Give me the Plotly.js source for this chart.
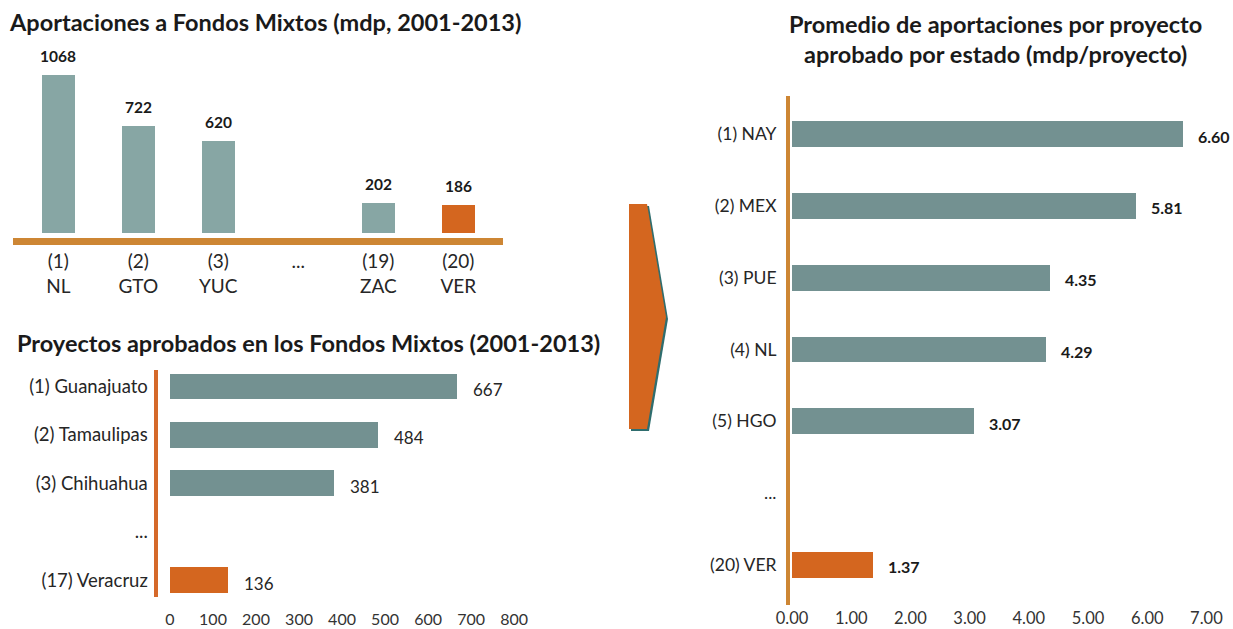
<!DOCTYPE html>
<html>
<head>
<meta charset="utf-8">
<script src="https://cdn.plot.ly/plotly-3.0.1.min.js"></script>
<style>
  html, body { margin: 0; padding: 0; background: #ffffff; }
  #chart { width: 1233px; height: 629px; }
</style>
</head>
<body>
<div id="chart"></div>
<script>
// ---------- Data ----------
// Chart 1: Aportaciones a Fondos Mixtos (mdp, 2001-2013)
const aportCategories = ['(1)<br>NL', '(2)<br>GTO', '(3)<br>YUC', '...', '(19)<br>ZAC', '(20)<br>VER'];
const aportValues = [1068, 722, 620, null, 202, 186];
const aportLabels = ['1068', '722', '620', '', '202', '186'];

// Chart 2: Proyectos aprobados en los Fondos Mixtos (2001-2013)
const proyCategories = ['(1) Guanajuato', '(2) Tamaulipas', '(3) Chihuahua', '...', '(17) Veracruz'];
const proyValues = [667, 484, 381, null, 136];
const proyTicks = [0, 100, 200, 300, 400, 500, 600, 700, 800];

// Chart 3: Promedio de aportaciones por proyecto aprobado por estado (mdp/proyecto)
const promCategories = ['(1) NAY', '(2) MEX', '(3) PUE', '(4) NL', '(5) HGO', '...', '(20) VER'];
const promValues = [6.60, 5.81, 4.35, 4.29, 3.07, null, 1.37];
const promTicks = [0, 1, 2, 3, 4, 5, 6, 7];

// Highlighted state (Veracruz) is the last entry in each chart
const W = 1233, H = 629;
const FONT = 'Lato, "Open Sans", sans-serif';
const TEAL_LIGHT = '#87a6a4';
const TEAL = '#739191';
const ORANGE = '#d4661f';
const LINE_TAN = '#cd8634';
const LINE_RED = '#d5692a';
const TITLE_SIZE = 23.5;

const px = x => x / W;
const py = y => 1 - y / H;

const trace1 = {
  type: 'bar', x: aportCategories, y: aportValues,
  xaxis: 'x', yaxis: 'y', width: 0.416,
  marker: { color: aportValues.map((v, i) => i === aportValues.length - 1 ? ORANGE : TEAL_LIGHT) },
  hoverinfo: 'x+y'
};
const trace2 = {
  type: 'bar', orientation: 'h', y: proyCategories, x: proyValues,
  xaxis: 'x2', yaxis: 'y2', width: 0.537,
  marker: { color: proyValues.map((v, i) => i === proyValues.length - 1 ? ORANGE : TEAL) },
  hoverinfo: 'x+y'
};
const trace3 = {
  type: 'bar', orientation: 'h', y: promCategories, x: promValues,
  xaxis: 'x3', yaxis: 'y3', width: 0.36,
  marker: { color: promValues.map((v, i) => i === promValues.length - 1 ? ORANGE : TEAL) },
  hoverinfo: 'x+y'
};

const annotations = [];
// value labels chart 1
aportValues.forEach((v, i) => {
  if (v === null) return;
  annotations.push({
    xref: 'x', yref: 'y', x: i, y: v, text: aportLabels[i],
    showarrow: false, yanchor: 'bottom', xanchor: 'center', yshift: 8,
    font: { family: FONT, size: 15.5, color: '#1a1a1a', weight: 700 }
  });
});
// value labels chart 2
proyValues.forEach((v, i) => {
  if (v === null) return;
  annotations.push({
    xref: 'x2', yref: 'y2', x: v, y: i, text: String(v),
    showarrow: false, xanchor: 'left', yanchor: 'middle', xshift: 14, yshift: -3,
    font: { family: FONT, size: 17, color: '#262626' }
  });
});
// value labels chart 3
promValues.forEach((v, i) => {
  if (v === null) return;
  annotations.push({
    xref: 'x3', yref: 'y3', x: v, y: i, text: v.toFixed(2),
    showarrow: false, xanchor: 'left', yanchor: 'middle', xshift: 13, yshift: -2,
    font: { family: FONT, size: 16, color: '#1a1a1a', weight: 700 }
  });
});
// titles for chart 2 and 3
annotations.push({
  xref: 'paper', yref: 'paper', x: px(15), y: py(343), xanchor: 'left', yanchor: 'middle',
  text: 'Proyectos aprobados en los Fondos Mixtos (2001-2013)', showarrow: false,
  font: { family: FONT, size: TITLE_SIZE, color: '#1a1a1a', weight: 700 }
});
annotations.push({
  xref: 'paper', yref: 'paper', x: px(995), y: py(24), xanchor: 'center', yanchor: 'middle',
  text: 'Promedio de aportaciones por proyecto', showarrow: false,
  font: { family: FONT, size: TITLE_SIZE, color: '#1a1a1a', weight: 700 }
});
annotations.push({
  xref: 'paper', yref: 'paper', x: px(995), y: py(54), xanchor: 'center', yanchor: 'middle',
  text: 'aprobado por estado (mdp/proyecto)', showarrow: false,
  font: { family: FONT, size: TITLE_SIZE, color: '#1a1a1a', weight: 700 }
});

// Arrow shape (decorative)
function pathFrom(pts, dx, dy) {
  return pts.map((p, k) => (k === 0 ? 'M ' : 'L ') + px(p[0] + dx) + ',' + py(p[1] + dy)).join(' ') + ' Z';
}
const arrowPts = [[629, 204], [647, 204], [666, 317], [647, 429], [629, 429]];
const shapes = [
  { type: 'path', xref: 'paper', yref: 'paper', path: pathFrom(arrowPts, 2, 2),
    fillcolor: '#2f6d6e', line: { width: 0 }, layer: 'above' },
  { type: 'path', xref: 'paper', yref: 'paper', path: pathFrom(arrowPts, 0, 0),
    fillcolor: ORANGE, line: { width: 0 }, layer: 'above' }
];

const layout = {
  width: W, height: H,
  margin: { l: 0, r: 0, t: 0, b: 0, pad: 0 },
  paper_bgcolor: '#ffffff', plot_bgcolor: 'rgba(0,0,0,0)',
  showlegend: false, bargap: 0,
  font: { family: FONT, color: '#262626' },
  title: {
    text: 'Aportaciones a Fondos Mixtos (mdp, 2001-2013)',
    x: px(10), xanchor: 'left', y: py(23), yanchor: 'middle',
    font: { family: FONT, size: TITLE_SIZE, color: '#1a1a1a', weight: 700 }
  },
  xaxis: {
    domain: [px(13), px(503)], anchor: 'y', type: 'category',
    range: [-0.566, 5.559], autorange: false,
    showline: true, linecolor: LINE_TAN, linewidth: 7,
    ticks: '', showgrid: false, zeroline: false,
    tickfont: { family: FONT, size: 19, color: '#262626' }, fixedrange: true
  },
  yaxis: {
    domain: [py(238), py(40)], anchor: 'x', range: [-37.3, 1305], autorange: false,
    visible: false, fixedrange: true
  },
  xaxis2: {
    domain: [px(157.5), px(530)], anchor: 'y2', range: [-29, 837], autorange: false,
    tickmode: 'array', tickvals: proyTicks, ticktext: proyTicks.map(String),
    showline: false, showgrid: false, zeroline: false, ticks: '',
    ticklabelstandoff: 11,
    tickfont: { family: FONT, size: 16, color: '#333333' }, fixedrange: true
  },
  yaxis2: {
    domain: [py(597), py(370)], anchor: 'x2', type: 'category',
    range: [4.351, -0.341], autorange: false,
    showline: true, linecolor: LINE_RED, linewidth: 4,
    ticks: '', showgrid: false, zeroline: false, ticklabelstandoff: 2,
    tickfont: { family: FONT, size: 18.5, color: '#262626' }, fixedrange: true
  },
  xaxis3: {
    domain: [px(790), px(1225)], anchor: 'y3', range: [-0.034, 7.314], autorange: false,
    tickmode: 'array', tickvals: promTicks, ticktext: promTicks.map(v => v.toFixed(2)),
    showline: false, showgrid: false, zeroline: false, ticks: '',
    ticklabelstandoff: 1,
    tickfont: { family: FONT, size: 16.5, color: '#333333' }, fixedrange: true
  },
  yaxis3: {
    domain: [py(605), py(96)], anchor: 'x3', type: 'category',
    range: [6.557, -0.529], autorange: false,
    showline: true, linecolor: LINE_TAN, linewidth: 4,
    ticks: '', showgrid: false, zeroline: false, ticklabelstandoff: 6,
    tickfont: { family: FONT, size: 17.5, color: '#262626' }, fixedrange: true
  },
  annotations: annotations,
  shapes: shapes
};

Plotly.newPlot('chart', [trace1, trace2, trace3], layout, { displayModeBar: false, staticPlot: true });
</script>
</body>
</html>
